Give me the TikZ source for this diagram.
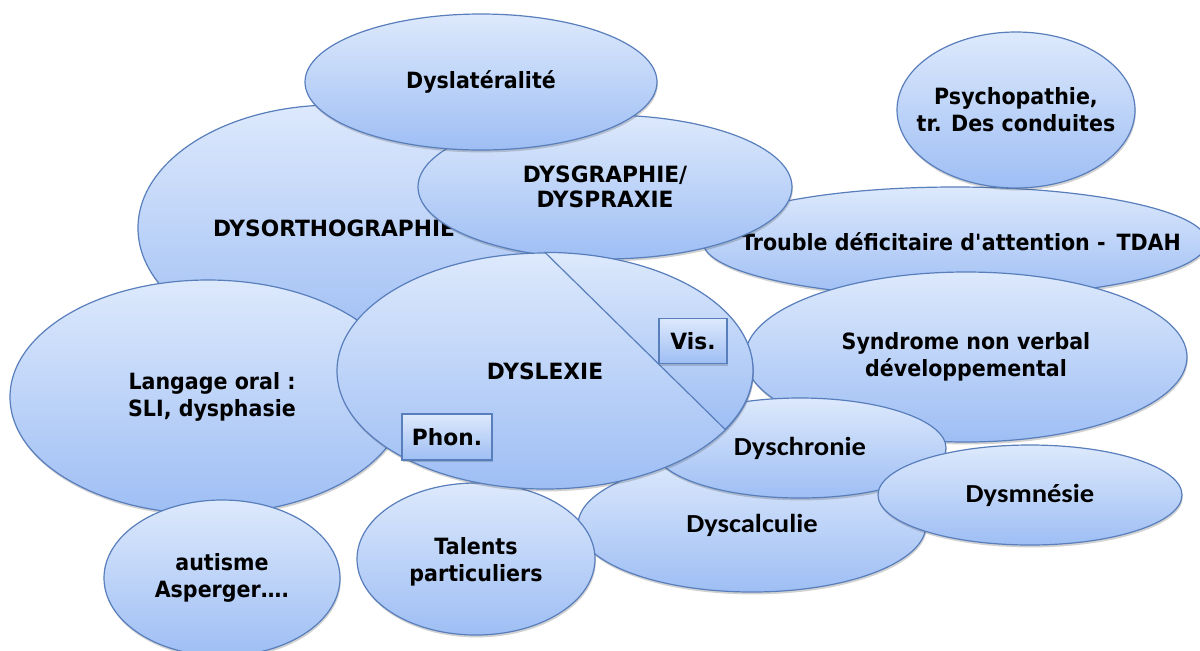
\documentclass[tikz,border=0pt]{standalone}
\usepackage{fontspec}
\newfontfamily\tahfont[FakeStretch=0.92]{DejaVu Sans}
\newfontfamily\tahcaps[FakeStretch=0.97]{DejaVu Sans}
\newfontfamily\calfont[FakeStretch=1.1]{Carlito}
\usepackage{tikz}
\usetikzlibrary{shapes.geometric,shadows}
\definecolor{bubtop}{RGB}{221,233,252}
\definecolor{bubbot}{RGB}{158,190,244}
\definecolor{bubline}{RGB}{88,126,188}

\begin{document}
\begin{tikzpicture}[
        x=0.5pt, y=-0.5pt,
        shadebase/.style={
            top color=bubtop,
            bottom color=bubbot,
            draw=bubline,
            line width=0.6pt
        },
        softshadow/.style={
            drop shadow={shadow xshift=0.4pt, shadow yshift=-1.2pt, opacity=0.25, fill=black!70}
        },
        bub/.style 2 args={
            ellipse,
            shadebase,
            softshadow,
            minimum width=#1pt,
            minimum height=#2pt,
            inner sep=0pt
        },
        tx/.style={
            font=\tahfont\bfseries\fontsize{11.2}{13.5}\selectfont,
            align=center,
            text=black
        },
        tc/.style={
            font=\tahcaps\bfseries\fontsize{11.2}{12.5}\selectfont,
            align=center,
            text=black
        },
        cx/.style={
            font=\calfont\bfseries\fontsize{13}{15}\selectfont,
            align=center,
            text=black
        },
        tagbox/.style={
            rectangle,
            shadebase,
            softshadow,
            tc,
            inner sep=0pt
        }
    ]

    \useasboundingbox (0,0) rectangle (1200,650);
    \fill[white] (0,0) rectangle (1200,650);

    % =========================
    % Back row
    % =========================
    \node[bub={252}{55}, label={[tx, xshift=3pt]center:Trouble d\'{e}ficitaire d\textquotesingle attention -\, TDAH}] (tdah) at (955,242) {};
    \node[bub={221}{85}, label={[tx]center:{Syndrome non verbal\\d\'{e}veloppemental}}] (nonverbal) at (966,357) {};
    \node[bub={196}{123}, label={[tc]center:DYSORTHOGRAPHIE}] (dysortho) at (334,228) {};
    \node[bub={198}{117}, label={[tx, xshift=2pt]center:{Langage oral :\\SLI, dysphasie}}] (langage) at (208,397) {};
    \node[bub={118}{78}, label={[tx]center:{autisme\\Asperger\dots.}}] (autisme) at (222,578) {};

    % =========================
    % Upper middle
    % =========================
    \node[bub={187}{72}, label={[tc]center:{DYSGRAPHIE/\\DYSPRAXIE}}] (dysgraph) at (605,187) {};
    \node[bub={176}{68}, label={[tx]center:Dyslat\'{e}ralit\'{e}}] (dyslat) at (481,82) {};

    % =========================
    % Lower middle
    % =========================
    \node[bub={174}{67}, label={[cx]center:Dyscalculie}] (dyscalc) at (752,525) {};
    \node[bub={119}{76}, label={[tx, yshift=-1.5pt]center:{Talents\\particuliers}}] (talents) at (476,559) {};
    \node[bub={146}{50}, label={[cx]center:Dyschronie}] (dyschron) at (800,448) {};
    \node[bub={152}{50}, label={[cx]center:Dysmn\'{e}sie}] (dysmnes) at (1030,495) {};

    % =========================
    % Centre
    % =========================
    \node[bub={208}{118}, label={[tc]center:DYSLEXIE}] (dyslexie) at (545,371) {};
    \shade[shadebase] (dyslexie.north)
        arc[start angle=90, end angle=-30, x radius=104pt, y radius=59pt] -- cycle;

    \node[tagbox, minimum width=34pt, minimum height=22.5pt] (vis) at (693,341) {Vis.};
    \node[tagbox, minimum width=45pt, minimum height=23pt] (phon) at (447,437) {Phon.};

    % =========================
    % Top right
    % =========================
    \node[bub={119}{78}, label={[tx]center:{Psychopathie,\\tr. Des conduites}}] (psycho) at (1016,110) {};

\end{tikzpicture}
\end{document}
